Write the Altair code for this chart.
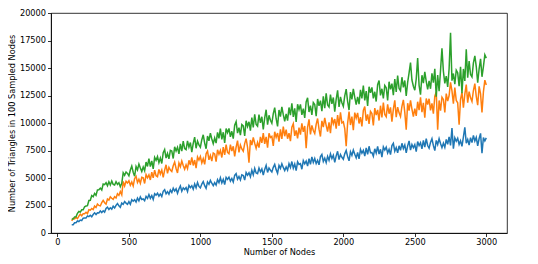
import altair as alt
import pandas as pd

nodes = list(range(100, 3001, 10))

blue = [
    750, 757, 933, 930, 1097, 1043, 1180, 1127, 1343, 1360,
    1355, 1555, 1485, 1610, 1480, 1680, 1835, 1675, 1845, 1820,
    2010, 1862, 2022, 1896, 2232, 2348, 2134, 2294, 2168, 2438,
    2275, 2515, 2680, 2470, 2335, 2725, 2615, 2855, 2720, 2610,
    2856, 2606, 3028, 2890, 3032, 2810, 3176, 2926, 3292, 3042,
    3100, 2943, 3330, 3141, 3496, 3147, 3406, 3057, 3572, 3447,
    3620, 3349, 3554, 3317, 3794, 3931, 3558, 3763, 3526, 3901,
    3692, 4077, 3814, 4019, 3612, 3997, 4274, 3795, 4108, 3953,
    4126, 3771, 4328, 4125, 4302, 3985, 4466, 4111, 4592, 4237,
    4100, 4448, 4676, 4304, 4052, 4640, 4428, 4776, 4524, 4312,
    4580, 4356, 4846, 4580, 5028, 4552, 4874, 4398, 5056, 4874,
    5080, 4712, 4960, 4636, 5236, 5396, 4896, 5144, 4820, 5288,
    5232, 4812, 5496, 5260, 5484, 5110, 5702, 5282, 5874, 5454,
    5396, 5905, 5550, 5819, 5272, 5781, 6146, 5503, 5916, 5704,
    5550, 5970, 6240, 5760, 5430, 6150, 5870, 6290, 5960, 5680,
    6000, 5708, 6300, 5956, 6496, 5892, 6276, 5672, 6472, 6232,
    6308, 5798, 6584, 6290, 6536, 6080, 6758, 6248, 6926, 6416,
    6775, 6308, 6611, 6199, 6942, 7135, 6503, 6806, 6394, 6972,
    6612, 7196, 6772, 7076, 6428, 7012, 7428, 6668, 7140, 6884,
    6710, 7194, 7504, 6944, 6558, 7390, 7062, 7546, 7160, 6832,
    7320, 6738, 7596, 7254, 7512, 6990, 7728, 7146, 7884, 7302,
    7320, 6978, 7656, 7254, 7872, 7170, 7608, 6906, 7824, 7542,
    7810, 7272, 7602, 7126, 7952, 8158, 7434, 7764, 7288, 7928,
    7514, 8154, 7678, 8008, 7284, 7924, 8378, 7530, 8046, 7756,
    8028, 7401, 8310, 7939, 8208, 7645, 8426, 7799, 8580, 7953,
    7705, 8238, 8576, 7939, 7497, 8420, 8043, 8576, 8134, 7757,
    8160, 7783, 8511, 8069, 8732, 7965, 9550, 7666, 8654, 8342,
    8615, 8042, 8379, 7871, 8728, 9600, 8167, 8504, 7996, 8658,
    8215, 8875, 8365, 8700, 7930, 8590, 9055, 7250, 8685, 8370,
    8650,
]

orange = [
    1105, 1325, 1275, 1420, 1310, 1530, 1705, 1565, 1755, 1750,
    1890, 1765, 2120, 2075, 2230, 2125, 2440, 2315, 2630, 2505,
    2460, 2754, 2964, 2754, 2628, 3090, 2992, 3286, 3160, 3062,
    3300, 3180, 3570, 3420, 3780, 3480, 4690, 4280, 4700, 4540,
    4750, 4340, 4630, 4270, 4960, 5150, 4590, 4880, 4520, 5060,
    5010, 4500, 5310, 5020, 5280, 4825, 5525, 5015, 5715, 5205,
    5120, 5780, 5360, 5720, 5060, 5720, 6200, 5420, 5960, 5720,
    5590, 6116, 6456, 5866, 5462, 6360, 6018, 6544, 6140, 5798,
    6200, 5850, 6605, 6190, 6880, 6140, 6635, 5895, 6910, 6625,
    6950, 6364, 6758, 6242, 7196, 7450, 6654, 7048, 6532, 7276,
    7190, 6480, 7570, 7160, 7500, 6865, 7805, 7095, 8035, 7325,
    7200, 8040, 7440, 7880, 6960, 7800, 8400, 7320, 8000, 7640,
    7430, 8126, 8576, 7796, 6400, 8450, 7998, 8694, 8160, 7708,
    8240, 7770, 8745, 8190, 9080, 8100, 8735, 7755, 9070, 8685,
    8780, 7912, 9204, 8696, 9088, 8310, 9422, 8554, 9666, 8798,
    9395, 8572, 9079, 8351, 9618, 9935, 8827, 9334, 8606, 9588,
    8940, 9971, 9202, 9733, 7700, 9595, 10326, 8957, 9788, 9319,
    9050, 9880, 10410, 9440, 8770, 10200, 9630, 10460, 9790, 9220,
    10050, 9078, 10506, 9934, 10362, 9490, 10718, 9746, 10974, 10002,
    10100, 9497, 7900, 9971, 11048, 9815, 10577, 9344, 10946, 10448,
    10920, 9957, 10534, 9681, 11138, 11495, 10202, 10779, 9926, 11053,
    10860, 9787, 11354, 10721, 11188, 10225, 11572, 10499, 11846, 10773,
    10570, 11697, 10844, 11421, 10128, 11255, 12052, 10539, 11446, 10923,
    10585, 11518, 12106, 10969, 9400, 11800, 11123, 12056, 11264, 10587,
    11300, 10640, 11935, 11160, 12340, 10990, 11825, 10475, 12230, 11685,
    12200, 11150, 11780, 10850, 12440, 12830, 9400, 12050, 11120, 12350,
    12140, 10970, 12680, 11990, 12500, 13700, 12920, 11750, 13220, 12050,
    11840, 9850, 12152, 12788, 11384, 12620, 13496, 11852, 12848, 12284,
    11960, 12954, 13588, 12422, 11616, 13330, 12644, 10950, 12832, 13900,
    13450,
]

green = [
    1275, 1265, 1465, 1470, 1790, 1960, 1905, 2105, 2110, 2385,
    2450, 2490, 2955, 2970, 3410, 3300, 3595, 3425, 3920, 3925,
    4080, 3910, 4450, 4400, 4570, 4300, 4660, 4360, 4720, 4420,
    4360, 4660, 4420, 4570, 4210, 4510, 5470, 5250, 5540, 5420,
    5200, 5730, 6080, 5530, 5160, 6050, 5740, 6270, 5900, 5590,
    6000, 5670, 6445, 6050, 6760, 6040, 6555, 5835, 6870, 6605,
    6950, 6390, 6810, 6320, 7300, 7580, 6810, 7230, 6740, 7510,
    7444, 6774, 7832, 7450, 7788, 7190, 8104, 7434, 8348, 7678,
    7575, 8365, 7805, 8220, 7360, 8150, 8715, 7705, 8345, 8010,
    7800, 8484, 8928, 8172, 7656, 8820, 8384, 9068, 8552, 8116,
    8640, 8174, 9153, 8602, 9496, 8520, 9159, 8183, 9502, 9121,
    9510, 8748, 9246, 8574, 9792, 10110, 9078, 9576, 8904, 9852,
    9730, 8828, 10206, 9684, 10112, 9305, 10493, 9591, 10779, 9877,
    9720, 10768, 10016, 10564, 9412, 10460, 11208, 9856, 10704, 10252,
    9975, 10847, 11404, 10386, 9683, 11185, 10587, 11459, 10756, 10158,
    10820, 10222, 11409, 10706, 11788, 10560, 11327, 10099, 11706, 11213,
    11690, 10732, 11314, 10466, 11928, 12290, 11002, 11584, 10736, 11868,
    11680, 10612, 12184, 11556, 12028, 11070, 12422, 11354, 12706, 11638,
    11450, 12582, 11734, 12316, 11028, 12160, 12962, 11454, 12366, 11848,
    11525, 12473, 13076, 11954, 11177, 12815, 12153, 13101, 12324, 11662,
    12380, 11718, 13011, 12234, 13412, 12060, 12893, 11541, 13294, 12747,
    13235, 12232, 12839, 11951, 13478, 13855, 12507, 13114, 12226, 13408,
    13210, 12042, 13754, 13066, 13578, 12530, 14002, 12834, 14306, 13138,
    12930, 14162, 13234, 13866, 12458, 13690, 14562, 15500, 13906, 13338,
    12975, 13999, 15900, 13422, 12571, 14345, 13619, 14643, 13792, 13066,
    13840, 13114, 14513, 13662, 14936, 12400, 14359, 12883, 14782, 16800,
    14705, 13604, 14253, 13277, 14926, 18200, 13849, 14498, 13522, 14796,
    14570, 13344, 15118, 12700, 14916, 13815, 16700, 14113, 15637, 14411,
    14185, 15459, 16100, 15132, 13656, 14930, 15829, 14200, 15127, 16200,
    15900,
]

series_names = ["blue", "orange", "green"]
series_colors = ["#1f77b4", "#ff7f0e", "#2ca02c"]
x_ticks = [0, 500, 1000, 1500, 2000, 2500, 3000]
y_ticks = [0, 2500, 5000, 7500, 10000, 12500, 15000, 17500, 20000]

rows = []
for name, vals in zip(series_names, [blue, orange, green]):
    for n, v in zip(nodes, vals):
        rows.append({"nodes": n, "tri": v, "series": name})
df = pd.DataFrame(rows)

FONT = "DejaVu Sans"
FS = 8.2

xenc = alt.X(
    "nodes:Q",
    scale=alt.Scale(domain=[-45, 3145], nice=False, zero=False),
    axis=alt.Axis(values=x_ticks, format="d", title="Number of Nodes",
                  titlePadding=3),
)
yenc = alt.Y(
    "tri:Q",
    scale=alt.Scale(domain=[0, 20000], nice=False),
    axis=alt.Axis(values=y_ticks, format="d",
                  title="Number of Triangles in 100 Sampled Nodes",
                  titlePadding=3),
)

layers = []
for name, col in zip(series_names, series_colors):
    layers.append(
        alt.Chart(df)
        .transform_filter(alt.datum.series == name)
        .mark_line(strokeWidth=1.5, color=col, clip=True)
        .encode(x=xenc, y=yenc)
    )

chart = (
    alt.layer(*layers)
    .properties(
        width=456,
        height=220,
        autosize=alt.AutoSizeParams(type="none"),
        padding={"left": 43, "top": 5, "right": 20, "bottom": 23},
    )
    .configure_view(stroke="black", strokeWidth=0.8)
    .configure_axis(
        grid=False,
        labelFont=FONT, titleFont=FONT,
        labelFontSize=FS, titleFontSize=FS,
        labelColor="black", titleColor="black",
        titleFontWeight="normal",
        tickColor="black", domainColor="black",
        tickSize=3.5, tickWidth=0.8, domainWidth=0.8,
        labelPadding=2,
    )
)

chart.save("out.html", embed_options={"renderer": "svg", "actions": False})
